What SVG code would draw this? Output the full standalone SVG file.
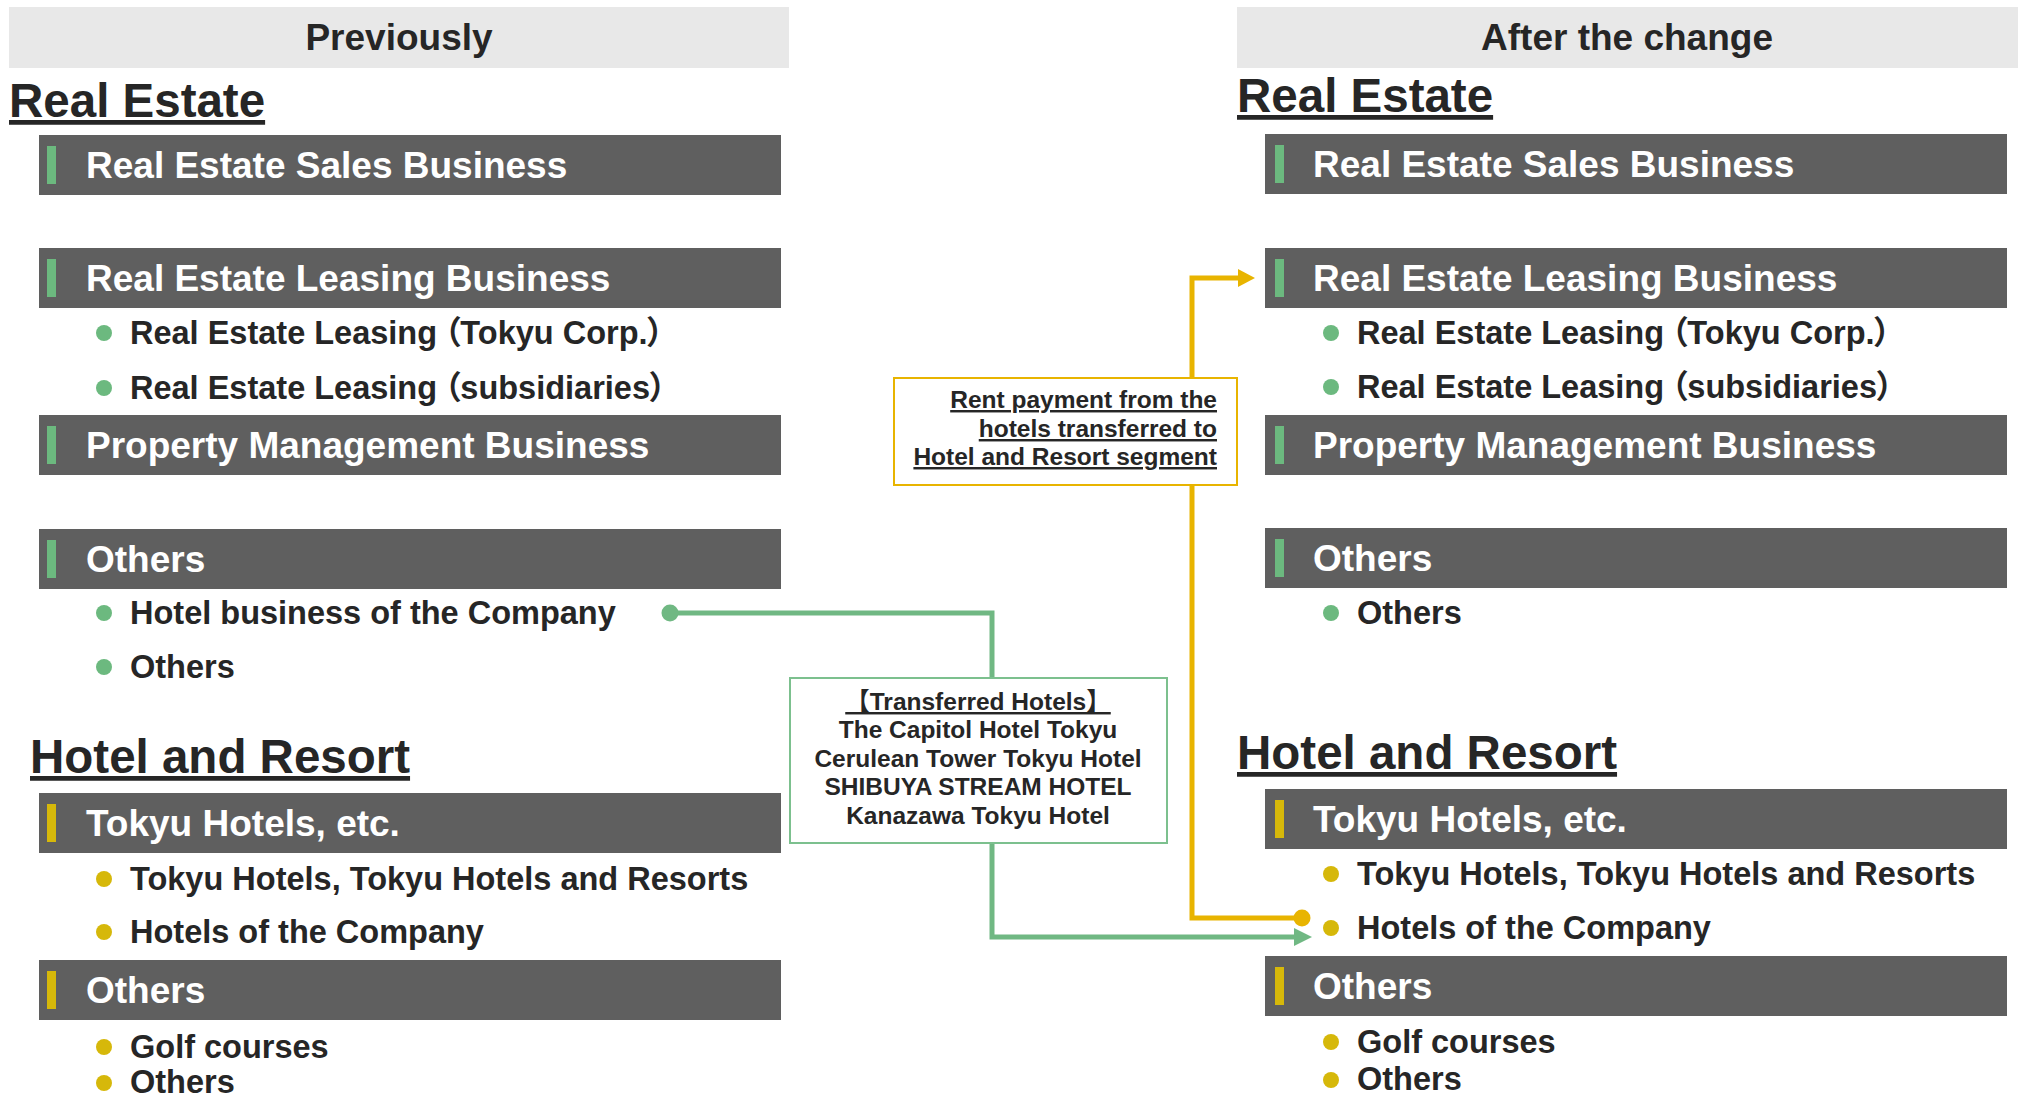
<svg xmlns="http://www.w3.org/2000/svg" width="2022" height="1097" viewBox="0 0 2022 1097">
  <defs>
    <style>
      .hdr { fill: #e8e8e8; }
      .hdr-t { font: bold 37px "Liberation Sans", sans-serif; fill: #262626; text-anchor: middle; }
      .seg { font: bold 47.5px "Liberation Sans", sans-serif; fill: #262626; text-decoration: underline; }
      .bar { fill: #5f5f5f; }
      .bar-t { font: bold 37px "Liberation Sans", sans-serif; fill: #ffffff; }
      .acc-g { fill: #6cb97f; }
      .acc-y { fill: #d6b80a; }
      .item { font: bold 32.5px "Liberation Sans", "Noto Sans CJK JP", sans-serif; fill: #262626; }
      .prop { font-feature-settings: "palt"; }
      .dot-g { fill: #6cb97f; }
      .dot-y { fill: #d6b80a; }
      .note { font: bold 24.5px "Liberation Sans", "Noto Sans CJK JP", sans-serif; fill: #262626; }
      .box-g { fill: #ffffff; stroke: #7cc08e; stroke-width: 2; }
      .box-y { fill: #ffffff; stroke: #e8b400; stroke-width: 2; }
      .ln-g { fill: none; stroke: #70b883; stroke-width: 5; stroke-linejoin: miter; }
      .ln-y { fill: none; stroke: #e8b400; stroke-width: 5; stroke-linejoin: miter; }
    </style>
    <marker id="arrow-g" markerUnits="userSpaceOnUse" viewBox="0 0 18 18" refX="0" refY="9" markerWidth="18" markerHeight="18" orient="auto">
      <path d="M0,0 L18,9 L0,18 Z" fill="#70b883"/>
    </marker>
    <marker id="arrow-y" markerUnits="userSpaceOnUse" viewBox="0 0 17 18" refX="0" refY="9" markerWidth="17" markerHeight="18" orient="auto">
      <path d="M0,0 L17,9 L0,18 Z" fill="#e8b400"/>
    </marker>
    <marker id="dot-g" markerUnits="userSpaceOnUse" viewBox="0 0 18 18" refX="9" refY="9" markerWidth="18" markerHeight="18">
      <circle cx="9" cy="9" r="8.5" fill="#70b883"/>
    </marker>
    <marker id="dot-y" markerUnits="userSpaceOnUse" viewBox="0 0 18 18" refX="9" refY="9" markerWidth="18" markerHeight="18">
      <circle cx="9" cy="9" r="8.5" fill="#e8b400"/>
    </marker>
  </defs>

  <rect width="2022" height="1097" fill="#ffffff"/>

  <!-- Column headers -->
  <g id="header-previously">
    <rect class="hdr" x="9" y="7" width="780" height="61"/>
    <text class="hdr-t" x="399" y="50">Previously</text>
  </g>
  <g id="header-after">
    <rect class="hdr" x="1237" y="7" width="781" height="61"/>
    <text class="hdr-t" x="1627" y="50">After the change</text>
  </g>

  <!-- Left column: segments before the change -->
  <g id="prev-real-estate">
    <text class="seg" x="9" y="117">Real Estate</text>
  </g>
  <g id="prev-re-sales">
    <rect class="bar" x="39" y="135" width="742" height="60"/>
    <rect class="acc-g" x="47" y="146" width="9" height="38"/>
    <text class="bar-t" x="86" y="178">Real Estate Sales Business</text>
  </g>
  <g id="prev-re-leasing">
    <rect class="bar" x="39" y="248" width="742" height="60"/>
    <rect class="acc-g" x="47" y="259" width="9" height="38"/>
    <text class="bar-t" x="86" y="291">Real Estate Leasing Business</text>
    <circle class="dot-g" cx="104" cy="333" r="8"/>
    <text class="item prop" x="130" y="344">Real Estate Leasing<tspan dx="7">（</tspan>Tokyu Corp.）</text>
    <circle class="dot-g" cx="104" cy="388" r="8"/>
    <text class="item prop" x="130" y="399">Real Estate Leasing<tspan dx="7">（</tspan>subsidiaries）</text>
  </g>
  <g id="prev-property-mgmt">
    <rect class="bar" x="39" y="415" width="742" height="60"/>
    <rect class="acc-g" x="47" y="426" width="9" height="38"/>
    <text class="bar-t" x="86" y="458">Property Management Business</text>
  </g>
  <g id="prev-re-others">
    <rect class="bar" x="39" y="529" width="742" height="60"/>
    <rect class="acc-g" x="47" y="540" width="9" height="38"/>
    <text class="bar-t" x="86" y="572">Others</text>
    <circle class="dot-g" cx="104" cy="613" r="8"/>
    <text class="item" x="130" y="624">Hotel business of the Company</text>
    <circle class="dot-g" cx="104" cy="667" r="8"/>
    <text class="item" x="130" y="678">Others</text>
  </g>

  <g id="prev-hotel-resort">
    <text class="seg" x="30" y="773">Hotel and Resort</text>
  </g>
  <g id="prev-tokyu-hotels">
    <rect class="bar" x="39" y="793" width="742" height="60"/>
    <rect class="acc-y" x="47" y="804" width="9" height="38"/>
    <text class="bar-t" x="86" y="836">Tokyu Hotels, etc.</text>
    <circle class="dot-y" cx="104" cy="879" r="8"/>
    <text class="item" x="130" y="890">Tokyu Hotels, Tokyu Hotels and Resorts</text>
    <circle class="dot-y" cx="104" cy="932" r="8"/>
    <text class="item" x="130" y="943">Hotels of the Company</text>
  </g>
  <g id="prev-hr-others">
    <rect class="bar" x="39" y="960" width="742" height="60"/>
    <rect class="acc-y" x="47" y="971" width="9" height="38"/>
    <text class="bar-t" x="86" y="1003">Others</text>
    <circle class="dot-y" cx="104" cy="1047" r="8"/>
    <text class="item" x="130" y="1058">Golf courses</text>
    <circle class="dot-y" cx="104" cy="1083" r="8"/>
    <text class="item" x="130" y="1093">Others</text>
  </g>

  <!-- Right column: segments after the change -->
  <g id="new-real-estate">
    <text class="seg" x="1237" y="112">Real Estate</text>
  </g>
  <g id="new-re-sales">
    <rect class="bar" x="1265" y="134" width="742" height="60"/>
    <rect class="acc-g" x="1275" y="145" width="9" height="38"/>
    <text class="bar-t" x="1313" y="177">Real Estate Sales Business</text>
  </g>
  <g id="new-re-leasing">
    <rect class="bar" x="1265" y="248" width="742" height="60"/>
    <rect class="acc-g" x="1275" y="259" width="9" height="38"/>
    <text class="bar-t" x="1313" y="291">Real Estate Leasing Business</text>
    <circle class="dot-g" cx="1331" cy="333" r="8"/>
    <text class="item prop" x="1357" y="344">Real Estate Leasing<tspan dx="7">（</tspan>Tokyu Corp.）</text>
    <circle class="dot-g" cx="1331" cy="387" r="8"/>
    <text class="item prop" x="1357" y="398">Real Estate Leasing<tspan dx="7">（</tspan>subsidiaries）</text>
  </g>
  <g id="new-property-mgmt">
    <rect class="bar" x="1265" y="415" width="742" height="60"/>
    <rect class="acc-g" x="1275" y="426" width="9" height="38"/>
    <text class="bar-t" x="1313" y="458">Property Management Business</text>
  </g>
  <g id="new-re-others">
    <rect class="bar" x="1265" y="528" width="742" height="60"/>
    <rect class="acc-g" x="1275" y="539" width="9" height="38"/>
    <text class="bar-t" x="1313" y="571">Others</text>
    <circle class="dot-g" cx="1331" cy="613" r="8"/>
    <text class="item" x="1357" y="624">Others</text>
  </g>

  <g id="new-hotel-resort">
    <text class="seg" x="1237" y="769">Hotel and Resort</text>
  </g>
  <g id="new-tokyu-hotels">
    <rect class="bar" x="1265" y="789" width="742" height="60"/>
    <rect class="acc-y" x="1275" y="800" width="9" height="38"/>
    <text class="bar-t" x="1313" y="832">Tokyu Hotels, etc.</text>
    <circle class="dot-y" cx="1331" cy="874" r="8"/>
    <text class="item" x="1357" y="885">Tokyu Hotels, Tokyu Hotels and Resorts</text>
    <circle class="dot-y" cx="1331" cy="928" r="8"/>
    <text class="item" x="1357" y="939">Hotels of the Company</text>
  </g>
  <g id="new-hr-others">
    <rect class="bar" x="1265" y="956" width="742" height="60"/>
    <rect class="acc-y" x="1275" y="967" width="9" height="38"/>
    <text class="bar-t" x="1313" y="999">Others</text>
    <circle class="dot-y" cx="1331" cy="1042" r="8"/>
    <text class="item" x="1357" y="1053">Golf courses</text>
    <circle class="dot-y" cx="1331" cy="1080" r="8"/>
    <text class="item" x="1357" y="1090">Others</text>
  </g>

  <!-- Connectors -->
  <g id="connectors">
    <path class="ln-g" d="M670,613 H992 V678" marker-start="url(#dot-g)"/>
    <path class="ln-g" d="M992,843 V937 H1294" marker-end="url(#arrow-g)"/>
    <path class="ln-y" d="M1192,378 V278 H1238" marker-end="url(#arrow-y)"/>
    <path class="ln-y" d="M1192,485 V918 H1302" marker-end="url(#dot-y)"/>
  </g>

  <!-- Callout: hotels moved to Hotel and Resort -->
  <g id="transferred-hotels">
    <rect class="box-g" x="790" y="678" width="377" height="165"/>
    <text class="note" x="978" y="710" text-anchor="middle" text-decoration="underline">【Transferred Hotels】</text>
    <text class="note" x="978" y="738" text-anchor="middle">The Capitol Hotel Tokyu</text>
    <text class="note" x="978" y="767" text-anchor="middle">Cerulean Tower Tokyu Hotel</text>
    <text class="note" x="978" y="795" text-anchor="middle">SHIBUYA STREAM HOTEL</text>
    <text class="note" x="978" y="824" text-anchor="middle">Kanazawa Tokyu Hotel</text>
  </g>

  <!-- Callout: rent payment stays in Real Estate Leasing -->
  <g id="rent-payment">
    <rect class="box-y" x="894" y="378" width="343" height="107"/>
    <text class="note" x="1217" y="408" text-anchor="end" text-decoration="underline">Rent payment from the</text>
    <text class="note" x="1217" y="437" text-anchor="end" text-decoration="underline">hotels transferred to</text>
    <text class="note" x="1217" y="465" text-anchor="end" text-decoration="underline">Hotel and Resort segment</text>
  </g>
</svg>
